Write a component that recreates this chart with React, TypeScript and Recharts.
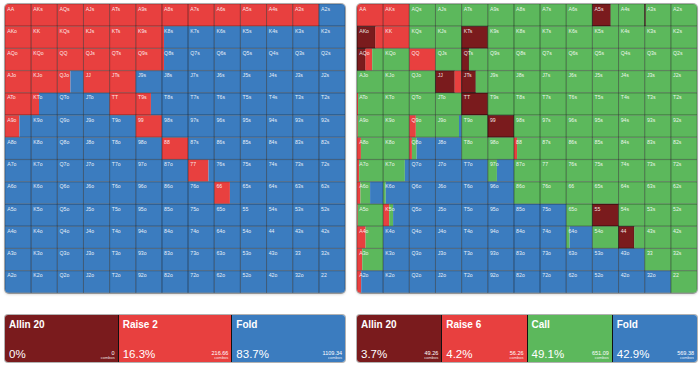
import React from 'react';
import { BarChart, Bar, XAxis, YAxis, LabelList } from 'recharts';

const RANKS = ['A', 'K', 'Q', 'J', 'T', '9', '8', '7', '6', '5', '4', '3', '2'];

const COLORS = {
    allin: '#7a1b1d',
    raise: '#e8403f',
    call: '#5cb85c',
    fold: '#3b7cbf',
};

// left grid: raise share per hand, the rest folds
const leftRaise = [
    [1, 1, 1, 1, 1, 1, 1, 1, 1, 1, 1, 1, 0],
    [1, 1, 1, 1, 1, 1, 0.08, 0, 0, 0, 0, 0, 0],
    [1, 1, 1, 1, 1, 1, 0.08, 0, 0, 0, 0, 0, 0],
    [1, 1, 0.5, 1, 1, 0, 0, 0, 0, 0, 0, 0, 0],
    [1, 0.3, 0, 0, 1, 0.58, 0, 0, 0, 0, 0, 0, 0],
    [0.55, 0, 0, 0, 0, 1, 0, 0, 0, 0, 0, 0, 0],
    [0, 0, 0, 0, 0, 0, 1, 0, 0, 0, 0, 0, 0],
    [0, 0, 0, 0, 0, 0, 0, 0.78, 0, 0, 0, 0, 0],
    [0, 0, 0, 0, 0, 0, 0, 0, 0.6, 0, 0, 0, 0],
    [0, 0, 0, 0, 0, 0, 0, 0, 0, 0, 0, 0, 0],
    [0, 0, 0, 0, 0, 0, 0, 0, 0, 0, 0, 0, 0],
    [0, 0, 0, 0, 0, 0, 0, 0, 0, 0, 0, 0, 0],
    [0, 0, 0, 0, 0, 0, 0, 0, 0, 0, 0, 0, 0],
];

// right grid: allin / raise / call shares, the rest folds
const rightAllin = [
    [0, 0, 0, 0, 0, 0, 0, 0, 0, 0.7, 0, 0.04, 0],
    [0.7, 0, 0, 0, 1, 0, 0, 0, 0, 0, 0, 0, 0],
    [0.32, 0, 0, 0, 0.28, 0, 0, 0, 0, 0, 0, 0, 0],
    [0, 0, 0, 0.73, 0.54, 0, 0, 0, 0, 0, 0, 0, 0],
    [0, 0, 0, 0, 1, 0, 0, 0, 0, 0, 0, 0, 0],
    [0, 0, 0, 0, 0, 1, 0, 0, 0, 0, 0, 0, 0],
    [0, 0, 0, 0, 0, 0, 0, 0, 0, 0, 0, 0, 0],
    [0, 0, 0, 0, 0, 0, 0, 0, 0, 0, 0, 0, 0],
    [0, 0, 0, 0, 0, 0, 0, 0, 0, 0, 0, 0, 0],
    [0, 0, 0, 0, 0, 0, 0, 0, 0, 1, 0, 0, 0],
    [0, 0, 0, 0, 0, 0, 0, 0, 0, 0, 0.6, 0, 0],
    [0, 0, 0, 0, 0, 0, 0, 0, 0, 0, 0, 0, 0],
    [0, 0, 0, 0, 0, 0, 0, 0, 0, 0, 0, 0, 0],
];

const rightRaise = [
    [1, 1, 0, 0, 0, 0, 0, 0, 0, 0, 0, 0, 0],
    [0.3, 1, 0, 0, 0, 0, 0, 0, 0, 0, 0, 0, 0],
    [0.26, 0, 1, 0, 0, 0, 0, 0, 0, 0, 0, 0, 0],
    [0, 0, 0, 0.27, 0, 0, 0, 0, 0, 0, 0, 0, 0],
    [0.04, 0, 0, 0, 0, 0, 0, 0, 0, 0, 0, 0, 0],
    [0.03, 0, 0.25, 0, 0, 0, 0, 0, 0, 0, 0, 0, 0],
    [0.15, 0, 0.1, 0, 0, 0, 0.12, 0, 0, 0, 0, 0, 0],
    [0.08, 0, 0, 0, 0, 0, 0, 0, 0, 0, 0, 0, 0],
    [0.13, 0, 0, 0, 0, 0, 0, 0, 0, 0, 0, 0, 0],
    [0.03, 0.23, 0, 0, 0, 0, 0, 0, 0, 0, 0, 0, 0],
    [0.33, 0, 0, 0, 0, 0, 0, 0, 0, 0, 0, 0, 0],
    [0.2, 0, 0, 0, 0, 0, 0, 0, 0, 0, 0, 0, 0],
    [0.16, 0, 0, 0, 0, 0, 0, 0, 0, 0, 0, 0, 0],
];

const rightCall = [
    [0, 0, 1, 1, 1, 1, 1, 1, 1, 0.3, 1, 0.96, 1],
    [0, 0, 1, 1, 0, 1, 1, 1, 1, 1, 1, 1, 1],
    [0.42, 1, 0, 1, 0.72, 1, 1, 1, 1, 1, 1, 1, 1],
    [1, 1, 1, 0, 0.46, 1, 1, 1, 1, 1, 1, 1, 1],
    [0.96, 1, 1, 1, 0, 1, 1, 1, 1, 1, 1, 1, 1],
    [0.97, 1, 0.75, 0.9, 1, 0, 1, 1, 1, 1, 1, 1, 1],
    [0.85, 1, 0.18, 0, 1, 1, 0.88, 1, 1, 1, 1, 1, 1],
    [0.92, 0.83, 0, 0, 0, 0.35, 1, 1, 1, 1, 1, 1, 1],
    [0.37, 0.1, 0, 0, 0, 0, 1, 1, 1, 1, 1, 1, 1],
    [0.97, 0.15, 0, 0, 0, 0, 0, 0, 1, 0, 1, 1, 1],
    [0.67, 0, 0, 0, 0, 0, 0, 0, 0.13, 1, 0.4, 1, 1],
    [0.8, 0, 0, 0, 0, 0, 0, 0, 0, 0, 0, 1, 1],
    [0, 0, 0, 0, 0, 0, 0, 0, 0, 0, 0, 0, 1],
];

const leftSummaryLabels = ['Allin 20', 'Raise 2', 'Fold'];
const leftSummaryPct = ['0%', '16.3%', '83.7%'];
const leftSummaryCombos = ['0', '216.66', '1109.34'];
const leftSummaryColors = [COLORS.allin, COLORS.raise, COLORS.fold];

const rightSummaryLabels = ['Allin 20', 'Raise 6', 'Call', 'Fold'];
const rightSummaryPct = ['3.7%', '4.2%', '49.1%', '42.9%'];
const rightSummaryCombos = ['49.26', '56.26', '651.09', '569.38'];
const rightSummaryColors = [COLORS.allin, COLORS.raise, COLORS.call, COLORS.fold];

const FONT = '"Liberation Sans", Arial, sans-serif';
const GRID_W = 340;
const GRID_H = 289;
const MARGIN = { top: 0, right: 0, bottom: 0, left: 0 };

const handName = (i: number, j: number) =>
    i === j ? RANKS[i] + RANKS[j] : i < j ? RANKS[i] + RANKS[j] + 's' : RANKS[j] + RANKS[i] + 'o';

type Action = { key: string; color: string; matrix: number[][] };

const buildRows = (actions: Action[]) =>
    RANKS.map((r, i) => {
        const row: Record<string, any> = { row: r };
        RANKS.forEach((_, j) => {
            let used = 0;
            actions.forEach(a => {
                row[`${a.key}${j}`] = a.matrix[i][j];
                used += a.matrix[i][j];
            });
            row[`f${j}`] = Math.max(0, Math.round((1 - used) * 1000) / 1000);
        });
        return row;
    });

// every cell of the overlay is one full unit wide, so each hand gets a border + name
const cellRows = RANKS.map(r => {
    const row: Record<string, any> = { row: r };
    RANKS.forEach((_, j) => { row[`u${j}`] = 1; });
    return row;
});

const makeCellLabel = (col: number) => (props: any) => {
    const vb = props.viewBox ?? props;
    const rowIdx = RANKS.indexOf(props.value);
    return (
        <text x={vb.x + 2.2} y={vb.y + 6.5} fontSize={5.2} fill="rgba(255,255,255,0.9)" fontFamily={FONT}>
            {handName(rowIdx, col)}
        </text>
    );
};

const HandGrid: React.FC<{ actions: Action[]; left: number }> = ({ actions, left }) => {
    const rows = buildRows(actions);
    const all = [...actions, { key: 'f', color: COLORS.fold, matrix: [] as number[][] }];
    const bars: React.ReactNode[] = [];
    RANKS.forEach((_, j) => {
        all.forEach(a => {
            bars.push(
                <Bar
                    key={`${a.key}${j}`}
                    dataKey={`${a.key}${j}`}
                    stackId="s"
                    fill={a.color}
                    stroke={a.key === 'a' ? 'rgba(0,0,0,0.45)' : 'none'}
                    strokeWidth={0.8}
                    isAnimationActive={false}
                />
            );
        });
    });
    const cells = RANKS.map((_, j) => (
        <Bar
            key={`u${j}`}
            dataKey={`u${j}`}
            stackId="u"
            fill="none"
            stroke="rgba(0,0,0,0.3)"
            strokeWidth={0.8}
            isAnimationActive={false}
        >
            <LabelList dataKey="row" content={makeCellLabel(j)} />
        </Bar>
    ));
    const layer: React.CSSProperties = { position: 'absolute', left: 0, top: 0 };
    return (
        <div
            style={{
                position: 'absolute',
                left,
                top: 4,
                width: GRID_W,
                height: GRID_H,
                borderRadius: 4,
                overflow: 'hidden',
                boxShadow: '0 0 0 1px rgba(0,0,0,0.3), 0 1px 3px rgba(0,0,0,0.25)',
            }}
        >
            <div style={layer}>
                <BarChart layout="vertical" width={GRID_W} height={GRID_H} data={rows} margin={MARGIN} barCategoryGap={0} barGap={0}>
                    <XAxis type="number" domain={[0, 13]} hide allowDataOverflow />
                    <YAxis type="category" dataKey="row" hide />
                    {bars}
                </BarChart>
            </div>
            <div style={layer}>
                <BarChart layout="vertical" width={GRID_W} height={GRID_H} data={cellRows} margin={MARGIN} barCategoryGap={0} barGap={0}>
                    <XAxis type="number" domain={[0, 13]} hide allowDataOverflow />
                    <YAxis type="category" dataKey="row" hide />
                    {cells}
                </BarChart>
            </div>
        </div>
    );
};

const Summary: React.FC<{ left: number; labels: string[]; pct: string[]; combos: string[]; colors: string[] }> = ({
    left, labels, pct, combos, colors,
}) => (
    <div
        style={{
            position: 'absolute',
            left,
            top: 315,
            width: 340,
            height: 47,
            display: 'flex',
            borderRadius: 3,
            overflow: 'hidden',
            fontFamily: FONT,
            color: '#fff',
            boxShadow: '0 0 0 1px rgba(0,0,0,0.3)',
        }}
    >
        {labels.map((l, i) => (
            <div
                key={l}
                style={{
                    flex: 1,
                    position: 'relative',
                    background: colors[i],
                    borderLeft: i > 0 ? '1px solid #111' : 'none',
                }}
            >
                <div style={{ position: 'absolute', left: 4, top: 4, fontSize: 10, fontWeight: 600 }}>{l}</div>
                <div style={{ position: 'absolute', left: 4, bottom: 2, fontSize: 11.5 }}>{pct[i]}</div>
                <div style={{ position: 'absolute', right: 3, bottom: 2, textAlign: 'right', lineHeight: 1 }}>
                    <div style={{ fontSize: 5.5 }}>{combos[i]}</div>
                    <div style={{ fontSize: 4, opacity: 0.85 }}>combos</div>
                </div>
            </div>
        ))}
    </div>
);

export default function App() {
    const leftActions: Action[] = [{ key: 'r', color: COLORS.raise, matrix: leftRaise }];
    const rightActions: Action[] = [
        { key: 'a', color: COLORS.allin, matrix: rightAllin },
        { key: 'r', color: COLORS.raise, matrix: rightRaise },
        { key: 'c', color: COLORS.call, matrix: rightCall },
    ];
    return (
        <div style={{ position: 'absolute', left: 0, top: 0, width: 700, height: 368, background: '#fff' }}>
            <HandGrid actions={leftActions} left={5} />
            <HandGrid actions={rightActions} left={357} />
            <Summary left={5} labels={leftSummaryLabels} pct={leftSummaryPct} combos={leftSummaryCombos} colors={leftSummaryColors} />
            <Summary left={357} labels={rightSummaryLabels} pct={rightSummaryPct} combos={rightSummaryCombos} colors={rightSummaryColors} />
        </div>
    );
}
